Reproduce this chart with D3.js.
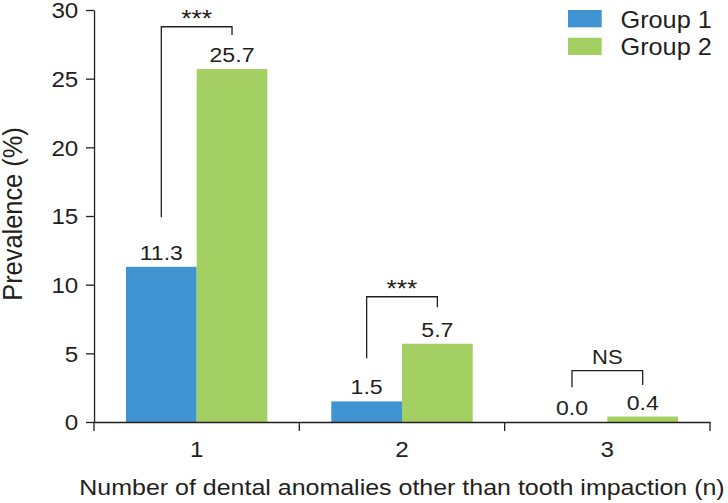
<!DOCTYPE html>
<html>
<head>
<meta charset="utf-8">
<script src="https://cdn.jsdelivr.net/npm/d3@7"></script>
<style>
  html, body { margin: 0; padding: 0; background: #fff; }
  svg { display: block; }
  text { font-family: "Liberation Sans", Arial, Helvetica, sans-serif; fill: #231f20; }
  .ax path, .ax line, .ln { stroke: #231f20; stroke-width: 1.3; fill: none; vector-effect: non-scaling-stroke; }
</style>
</head>
<body>
<div id="chart"></div>
<script>
const categories = ["1", "2", "3"];
const groups = ["Group 1", "Group 2"];
const group1 = [11.3, 1.5, 0.0];
const group2 = [25.7, 5.7, 0.4];
const yTicks = [0, 5, 10, 15, 20, 25, 30];
const sigLabels = ["***", "***", "NS"];
const bracketTop = [28.78, 9.12, 3.74];
const bracketLeftEnd = [14.9, 4.64, 2.53];
const bracketRightEnd = [28.18, 8.35, 2.69];
const colors = ["#4194d2", "#a4cf63"];
const xTitle = "Number of dental anomalies other than tooth impaction (n)";
const yTitle = "Prevalence (%)";

const S = 1.1, W = 728, H = 503, VW = W / S;
const svg = d3.select("#chart").append("svg")
  .attr("width", W).attr("height", H)
  .attr("viewBox", `0 0 ${VW} ${H}`)
  .attr("preserveAspectRatio", "none");

const x = d3.scaleBand().domain(categories).range([94 / S, 710 / S]);
const xs = d3.scaleBand().domain(groups).range([0, x.bandwidth()]).paddingOuter(0.452).paddingInner(0);
const y = d3.scaleLinear().domain([0, 30]).range([422, 10]);

const series = [group1, group2];

// bars
groups.forEach((g, gi) => {
  svg.append("g").selectAll("rect")
    .data(categories.map((c, i) => ({ c, v: series[gi][i] })))
    .join("rect")
    .attr("x", d => x(d.c) + xs(g))
    .attr("width", xs.bandwidth())
    .attr("y", d => y(d.v))
    .attr("height", d => y(0) - y(d.v))
    .attr("fill", colors[gi]);
});

// value labels
const fmt = d3.format(".1f");
groups.forEach((g, gi) => {
  svg.append("g").selectAll("text")
    .data(categories.map((c, i) => ({ c, v: series[gi][i] })))
    .join("text")
    .attr("x", d => x(d.c) + xs(g) + xs.bandwidth() / 2)
    .attr("y", d => y(d.v) - 7)
    .attr("text-anchor", "middle")
    .style("font-size", "21px")
    .text(d => fmt(d.v));
});

// y axis
const yAx = svg.append("g").attr("class", "ax")
  .attr("transform", `translate(${94 / S},0)`)
  .call(d3.axisLeft(y).tickValues(yTicks).tickSize(8 / S).tickPadding(7).tickSizeOuter(0));
yAx.attr("font-size", 22).attr("font-family", null);
yAx.selectAll("text").attr("font-size", 22).style("font-size", "22px").attr("dy", "0.36em");

// x axis
const xAx = svg.append("g").attr("class", "ax")
  .attr("transform", `translate(0,${y(0)})`)
  .call(d3.axisBottom(x).tickSize(0).tickPadding(19.4).tickSizeOuter(0));
xAx.attr("font-size", 22).attr("font-family", null);
xAx.selectAll("text").attr("font-size", 22).style("font-size", "22px");
const bounds = [x.range()[0]].concat(categories.map(c => x(c) + x.bandwidth()));
svg.append("g").selectAll("line").data(bounds).join("line")
  .attr("class", "ln")
  .attr("x1", d => d).attr("x2", d => d)
  .attr("y1", y(0)).attr("y2", y(0) + 9);

// brackets
categories.forEach((c, i) => {
  const xl = x(c) + xs(groups[0]) + xs.bandwidth() / 2;
  const xr = x(c) + xs(groups[1]) + xs.bandwidth() / 2;
  const path = d3.path();
  path.moveTo(xl, y(bracketLeftEnd[i]));
  path.lineTo(xl, y(bracketTop[i]));
  path.lineTo(xr, y(bracketTop[i]));
  path.lineTo(xr, y(bracketRightEnd[i]));
  svg.append("path").attr("class", "ln").attr("d", path.toString());
  const isStar = sigLabels[i] !== "NS";
  svg.append("text")
    .attr("x", (xl + xr) / 2)
    .attr("y", isStar ? y(bracketTop[i]) + 0.5 : y(bracketTop[i]) - 6.7)
    .attr("text-anchor", "middle")
    .style("font-size", isStar ? "24px" : "20px")
    .text(sigLabels[i]);
});

// legend
const legY = [10, 37.7];
const legBase = [28, 54.7];
groups.forEach((g, gi) => {
  svg.append("rect")
    .attr("x", 568 / S).attr("y", legY[gi])
    .attr("width", 33.7 / S).attr("height", 17.3)
    .attr("fill", colors[gi]);
  svg.append("text")
    .attr("x", 620.5 / S).attr("y", legBase[gi])
    .style("font-size", "23px")
    .text(g);
});

// axis titles
svg.append("text")
  .attr("x", (x.range()[0] + x.range()[1]) / 2)
  .attr("y", 495)
  .attr("text-anchor", "middle")
  .style("font-size", "22.7px")
  .text(xTitle);

svg.append("text")
  .attr("transform", `translate(${22 / S},214) rotate(-90)`)
  .attr("text-anchor", "middle")
  .style("font-size", "25.4px")
  .text(yTitle);
</script>
</body>
</html>
